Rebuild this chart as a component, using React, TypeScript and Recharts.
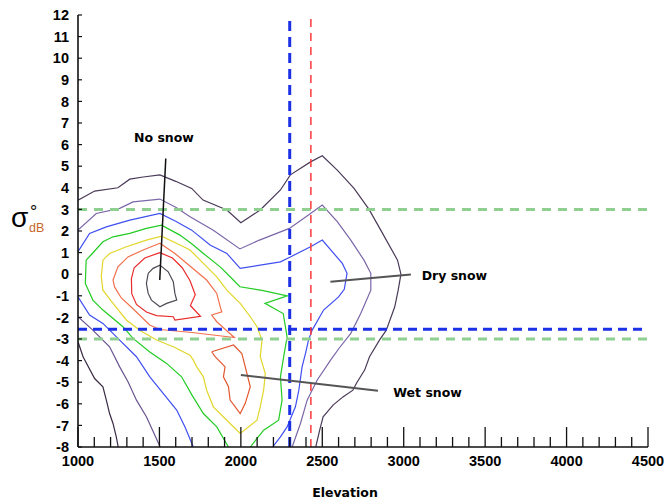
import React from "react";
import {
  LineChart,
  Line,
  XAxis,
  YAxis,
  ReferenceLine,
  ReferenceDot
} from "recharts";

type Pt = { x: number; y: number };

// contour levels, outermost first
const outerTop: Pt[] = [
  { x: 1000, y: 3.43 }, { x: 1102, y: 3.85 }, { x: 1245, y: 4.0 }, { x: 1318, y: 4.4 },
  { x: 1400, y: 4.5 }, { x: 1503, y: 4.6 }, { x: 1600, y: 4.3 }, { x: 1698, y: 3.97 },
  { x: 1768, y: 3.43 }, { x: 1914, y: 2.97 }, { x: 2000, y: 2.38 }, { x: 2119, y: 2.97 },
  { x: 2243, y: 3.9 }, { x: 2304, y: 4.6 }, { x: 2428, y: 5.2 }, { x: 2500, y: 5.48 },
  { x: 2592, y: 4.82 }, { x: 2695, y: 3.97 }, { x: 2787, y: 3.0 }, { x: 2859, y: 2.04 },
  { x: 2962, y: 0.65 }, { x: 2983, y: 0 }, { x: 2966, y: -0.74 }, { x: 2945, y: -1.51 },
  { x: 2893, y: -2.59 }, { x: 2851, y: -3.05 }, { x: 2790, y: -3.82 }, { x: 2760, y: -4.44 },
  { x: 2709, y: -5.06 }, { x: 2688, y: -5.37 }, { x: 2627, y: -5.68 }, { x: 2566, y: -6.06 },
  { x: 2505, y: -6.6 }, { x: 2484, y: -7.22 }, { x: 2460, y: -8 }
];
const outerLow: Pt[] = [
  { x: 1000, y: -3.13 }, { x: 1031, y: -3.82 }, { x: 1102, y: -4.83 }, { x: 1153, y: -5.21 },
  { x: 1174, y: -5.83 }, { x: 1194, y: -6.45 }, { x: 1215, y: -6.91 }, { x: 1235, y: -7.53 },
  { x: 1247, y: -8 }
];
const purpleTop: Pt[] = [
  { x: 1000, y: 2.04 }, { x: 1112, y: 2.81 }, { x: 1256, y: 3.05 }, { x: 1338, y: 3.35 },
  { x: 1503, y: 3.48 }, { x: 1600, y: 3.1 }, { x: 1688, y: 2.66 }, { x: 1831, y: 2.04 },
  { x: 1994, y: 1.17 }, { x: 2114, y: 1.58 }, { x: 2298, y: 2.12 }, { x: 2428, y: 2.81 },
  { x: 2500, y: 3.2 }, { x: 2592, y: 2.43 }, { x: 2675, y: 1.58 }, { x: 2756, y: 0.65 },
  { x: 2798, y: 0.04 }, { x: 2798, y: -0.74 }, { x: 2736, y: -1.82 }, { x: 2675, y: -2.74 },
  { x: 2602, y: -3.44 }, { x: 2551, y: -3.98 }, { x: 2469, y: -4.9 }, { x: 2407, y: -5.83 },
  { x: 2366, y: -6.91 }, { x: 2315, y: -8 }
];
const purpleLow: Pt[] = [
  { x: 1000, y: -1.97 }, { x: 1091, y: -2.59 }, { x: 1194, y: -3.36 }, { x: 1256, y: -4.29 },
  { x: 1307, y: -4.98 }, { x: 1359, y: -5.83 }, { x: 1420, y: -6.6 }, { x: 1505, y: -8 }
];
const blueTop: Pt[] = [
  { x: 1000, y: 1.04 }, { x: 1071, y: 1.89 }, { x: 1174, y: 2.19 }, { x: 1318, y: 2.5 },
  { x: 1503, y: 2.81 }, { x: 1600, y: 2.45 }, { x: 1698, y: 2.04 }, { x: 1811, y: 1.35 },
  { x: 1914, y: 0.96 }, { x: 1996, y: 0.27 }, { x: 2243, y: 0.57 }, { x: 2304, y: 0.8 },
  { x: 2428, y: 1.27 }, { x: 2500, y: 1.58 }, { x: 2623, y: 0.5 }, { x: 2652, y: 0.04 },
  { x: 2635, y: -0.7 }, { x: 2600, y: -1.05 }, { x: 2508, y: -1.66 }, { x: 2437, y: -2.6 },
  { x: 2415, y: -3.06 }, { x: 2397, y: -3.67 }, { x: 2376, y: -4.29 }, { x: 2356, y: -5.37 },
  { x: 2335, y: -6.14 }, { x: 2284, y: -7.07 }, { x: 2243, y: -7.53 }, { x: 2195, y: -8 }
];
const blueLow: Pt[] = [
  { x: 1000, y: -1.05 }, { x: 1071, y: -1.89 }, { x: 1153, y: -2.28 }, { x: 1256, y: -3.05 },
  { x: 1359, y: -3.82 }, { x: 1441, y: -4.75 }, { x: 1523, y: -5.52 }, { x: 1606, y: -6.29 },
  { x: 1657, y: -7.07 }, { x: 1708, y: -8 }
];
const green: Pt[] = [
  { x: 1924, y: -8 }, { x: 1852, y: -7.07 }, { x: 1770, y: -6.45 }, { x: 1700, y: -5.6 },
  { x: 1636, y: -4.75 }, { x: 1544, y: -4.13 }, { x: 1441, y: -3.6 }, { x: 1338, y: -2.97 },
  { x: 1276, y: -2.43 }, { x: 1153, y: -1.66 }, { x: 1091, y: -1.2 }, { x: 1045, y: -0.43 },
  { x: 1050, y: 0.65 }, { x: 1081, y: 0.9 }, { x: 1153, y: 1.5 }, { x: 1215, y: 1.73 },
  { x: 1318, y: 1.89 }, { x: 1420, y: 2.12 }, { x: 1513, y: 2.27 }, { x: 1626, y: 1.81 },
  { x: 1700, y: 1.4 }, { x: 1770, y: 0.96 }, { x: 1873, y: 0.34 }, { x: 1934, y: -0.12 },
  { x: 1994, y: -0.58 }, { x: 2130, y: -0.75 }, { x: 2285, y: -1.0 }, { x: 2148, y: -1.35 },
  { x: 2260, y: -1.82 }, { x: 2284, y: -2.9 }, { x: 2263, y: -3.82 }, { x: 2243, y: -4.75 },
  { x: 2253, y: -5.83 }, { x: 2232, y: -6.76 }, { x: 2140, y: -7.22 }, { x: 2058, y: -8 }
];
const yellow: Pt[] = [
  { x: 1143, y: -0.12 }, { x: 1153, y: 0.65 }, { x: 1194, y: 0.96 }, { x: 1297, y: 1.27 },
  { x: 1420, y: 1.58 }, { x: 1513, y: 1.76 }, { x: 1626, y: 1.35 }, { x: 1688, y: 1.12 },
  { x: 1770, y: 0.5 }, { x: 1852, y: -0.12 }, { x: 1914, y: -0.74 }, { x: 1996, y: -1.35 },
  { x: 2058, y: -1.97 }, { x: 2099, y: -2.43 }, { x: 2130, y: -3.05 }, { x: 2119, y: -3.82 },
  { x: 2150, y: -4.6 }, { x: 2140, y: -5.37 }, { x: 2119, y: -6.14 }, { x: 2099, y: -6.76 },
  { x: 1996, y: -7.37 }, { x: 1914, y: -6.76 }, { x: 1831, y: -6.14 }, { x: 1790, y: -5.37 },
  { x: 1770, y: -4.75 }, { x: 1729, y: -4.29 }, { x: 1708, y: -3.98 }, { x: 1688, y: -3.75 },
  { x: 1585, y: -3.36 }, { x: 1482, y: -3.05 }, { x: 1379, y: -2.59 }, { x: 1297, y: -2.12 },
  { x: 1215, y: -1.35 }, { x: 1153, y: -0.74 }, { x: 1143, y: -0.12 }
];
const orange: Pt[] = [
  { x: 1503, y: 1.43 }, { x: 1595, y: 0.96 }, { x: 1700, y: 0.3 }, { x: 1790, y: -0.27 },
  { x: 1852, y: -0.89 }, { x: 1873, y: -1.5 }, { x: 1883, y: -1.74 }, { x: 1821, y: -1.89 },
  { x: 1852, y: -2.2 }, { x: 1960, y: -2.93 }, { x: 1700, y: -2.7 }, { x: 1503, y: -2.56 },
  { x: 1440, y: -2.35 }, { x: 1338, y: -1.6 }, { x: 1266, y: -1.1 }, { x: 1225, y: -0.6 },
  { x: 1215, y: -0.27 }, { x: 1245, y: 0.34 }, { x: 1307, y: 0.8 }, { x: 1400, y: 1.12 },
  { x: 1503, y: 1.43 }
];
const red: Pt[] = [
  { x: 1503, y: 1.0 }, { x: 1580, y: 0.75 }, { x: 1640, y: 0.3 }, { x: 1688, y: -0.3 },
  { x: 1720, y: -0.95 }, { x: 1690, y: -1.45 }, { x: 1752, y: -1.95 }, { x: 1595, y: -2.12 },
  { x: 1585, y: -1.97 }, { x: 1482, y: -1.92 }, { x: 1420, y: -1.75 }, { x: 1359, y: -1.4 },
  { x: 1330, y: -0.9 }, { x: 1328, y: -0.2 }, { x: 1345, y: 0.3 }, { x: 1410, y: 0.75 },
  { x: 1503, y: 1.0 }
];
const core: Pt[] = [
  { x: 1431, y: 0.04 }, { x: 1461, y: 0.27 }, { x: 1503, y: 0.42 }, { x: 1554, y: 0.11 },
  { x: 1585, y: -0.35 }, { x: 1595, y: -0.89 }, { x: 1606, y: -1.2 }, { x: 1544, y: -1.35 },
  { x: 1503, y: -1.51 }, { x: 1451, y: -1.2 }, { x: 1431, y: -0.89 }, { x: 1420, y: -0.43 },
  { x: 1431, y: 0.04 }
];
const wetBlob: Pt[] = [
  { x: 1821, y: -3.59 }, { x: 1955, y: -3.28 }, { x: 2006, y: -3.67 }, { x: 2027, y: -4.29 },
  { x: 2058, y: -5.21 }, { x: 2027, y: -5.98 }, { x: 1996, y: -6.45 }, { x: 1934, y: -5.83 },
  { x: 1924, y: -5.21 }, { x: 1893, y: -4.75 }, { x: 1903, y: -4.29 }, { x: 1842, y: -3.82 },
  { x: 1821, y: -3.59 }
];

const xTicks = [
  1000, 1100, 1200, 1300, 1400, 1500, 1600, 1700, 1800, 1900, 2000, 2100,
  2200, 2300, 2400, 2500, 2600, 2700, 2800, 2900, 3000, 3100, 3200, 3300,
  3400, 3500, 3600, 3700, 3800, 3900, 4000, 4100, 4200, 4300, 4400, 4500
];
const yTicks = [-8, -7, -6, -5, -4, -3, -2, -1, 0, 1, 2, 3, 4, 5, 6, 7, 8, 9, 10, 11, 12];

// thresholds
const elevLimitBlue = 2300;
const elevLimitRed = 2430;
const sigmaGreen = [3, -3];
const sigmaBlue = -2.55;

const tickFont = { fontFamily: "'Liberation Sans', Arial, sans-serif", fontWeight: 700, fontSize: 14.5 };
const noteFont = { fontFamily: "'DejaVu Sans', sans-serif", fontWeight: 700, fontSize: 12.5 };

const series = [
  { data: outerTop, color: "#4a3a58" },
  { data: outerLow, color: "#3a2a44" },
  { data: purpleTop, color: "#7a66a8" },
  { data: purpleLow, color: "#6a5590" },
  { data: blueTop, color: "#3f4ff0" },
  { data: blueLow, color: "#3f4ff0" },
  { data: green, color: "#22cc22" },
  { data: yellow, color: "#e2d62a" },
  { data: orange, color: "#f2704c" },
  { data: red, color: "#ea2c2c" },
  { data: core, color: "#4c4a54" },
  { data: wetBlob, color: "#e2572e" }
];

function XTick(props: any) {
  const { x, y, payload } = props;
  const major = payload.value % 500 === 0;
  return (
    <g>
      <line x1={x} x2={x} y1={y} y2={y - (major ? 20 : 10)} stroke="#111" strokeWidth={1.3} />
      {major && (
        <text x={x} y={y + 19} textAnchor="middle" fill="#000" {...tickFont}>
          {payload.value}
        </text>
      )}
    </g>
  );
}

function YTick(props: any) {
  const { x, y, payload } = props;
  return (
    <g>
      <line x1={x} x2={x + 4} y1={y} y2={y} stroke="#111" strokeWidth={1.2} />
      <text x={x - 9} y={y} dy="0.36em" textAnchor="end" fill="#000" {...tickFont}>
        {payload.value}
      </text>
    </g>
  );
}

function SigmaLabel(props: any) {
  const vb = props.viewBox || { x: 8, y: 15 };
  const x0 = vb.x + 3;
  const y0 = vb.y + 212;
  return (
    <g>
      <text x={x0} y={y0} fontFamily="'Liberation Sans', Arial, sans-serif" fontSize={28} fill="#000">
        σ
      </text>
      <text x={x0 + 19} y={y0 - 9} fontFamily="'Liberation Sans', Arial, sans-serif" fontSize={18} fill="#000">
        °
      </text>
      <text x={x0 + 18} y={y0 + 5} fontFamily="'Liberation Sans', Arial, sans-serif" fontSize={12.5} fill="#c8662a">
        dB
      </text>
    </g>
  );
}

function ElevationLabel(props: any) {
  const vb = props.viewBox || { x: 78, y: 447 };
  return (
    <text x={vb.x + 267} y={vb.y + 50} textAnchor="middle" fill="#000" {...noteFont}>
      Elevation
    </text>
  );
}

const note = (text: string, anchor: string) => (props: any) => {
  const vb = props.viewBox;
  return (
    <text x={vb.x} y={vb.y} textAnchor={anchor} fill="#000" {...noteFont}>
      {text}
    </text>
  );
};

export default function App() {
  return (
    <div style={{ position: "absolute", left: 0, top: 0, background: "#fff" }}>
      <LineChart
        width={667}
        height={501}
        margin={{ top: 15, right: 19, left: 8, bottom: 24 }}
      >
        <XAxis
          dataKey="x"
          type="number"
          domain={[1000, 4500]}
          ticks={xTicks}
          interval={0}
          allowDataOverflow
          height={30}
          tickSize={0}
          tickMargin={0}
          tickLine={false}
          tick={<XTick />}
          axisLine={{ stroke: "#111", strokeWidth: 1.6 }}
          label={{ content: ElevationLabel }}
        />
        <YAxis
          dataKey="y"
          type="number"
          domain={[-8, 12]}
          ticks={yTicks}
          interval={0}
          allowDataOverflow
          width={70}
          tickSize={0}
          tickMargin={0}
          tickLine={false}
          tick={<YTick />}
          axisLine={{ stroke: "#111", strokeWidth: 1.6 }}
          label={{ content: SigmaLabel }}
        />
        {series.map((s, i) => (
          <Line
            key={i}
            data={s.data}
            dataKey="y"
            type="linear"
            stroke={s.color}
            strokeWidth={1.2}
            dot={false}
            activeDot={false}
            isAnimationActive={false}
          />
        ))}
        {sigmaGreen.map(v => (
          <ReferenceLine key={v} y={v} stroke="#8fcf8f" strokeWidth={3} strokeDasharray="9 7" />
        ))}
        <ReferenceLine y={sigmaBlue} stroke="#1c30e6" strokeWidth={3} strokeDasharray="9 6" />
        <ReferenceLine x={elevLimitBlue} stroke="#1c30e6" strokeWidth={3} strokeDasharray="10 6" />
        <ReferenceLine x={elevLimitRed} stroke="#ff3a3a" strokeWidth={1.5} strokeDasharray="8 6" />
        <ReferenceLine
          segment={[{ x: 1539, y: 5.36 }, { x: 1502, y: -0.27 }]}
          stroke="#111"
          strokeWidth={1.5}
        />
        <ReferenceLine
          segment={[{ x: 2550, y: -0.35 }, { x: 3044, y: -0.01 }]}
          stroke="#555"
          strokeWidth={2}
        />
        <ReferenceLine
          segment={[{ x: 2000, y: -4.67 }, { x: 2842, y: -5.4 }]}
          stroke="#555"
          strokeWidth={2}
        />
        <ReferenceDot x={1528} y={6.13} r={0} stroke="none" fill="none" label={{ content: note("No snow", "middle") }} />
        <ReferenceDot x={3110} y={-0.27} r={0} stroke="none" fill="none" label={{ content: note("Dry snow", "start") }} />
        <ReferenceDot x={2936} y={-5.69} r={0} stroke="none" fill="none" label={{ content: note("Wet snow", "start") }} />
      </LineChart>
    </div>
  );
}
